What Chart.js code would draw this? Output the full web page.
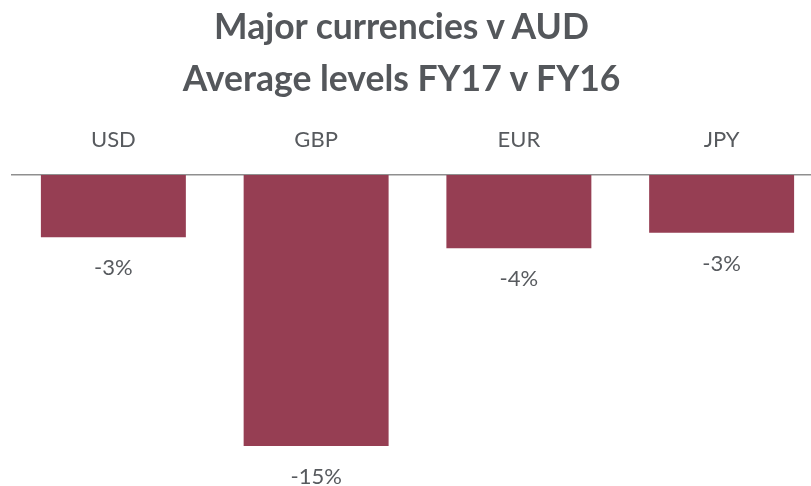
<!DOCTYPE html>
<html>
<head>
<meta charset="utf-8">
<script src="https://cdn.jsdelivr.net/npm/chart.js@4"></script>
<style>
  html, body { margin: 0; padding: 0; background: #fff; overflow: hidden; }
  #wrap { position: relative; width: 811px; height: 486px; overflow: hidden; }
  #title {
    position: absolute; left: -4px; top: 0; width: 811px; text-align: center;
    font-family: Lato, sans-serif; font-weight: bold; font-size: 35.5px; line-height: 52px;
    color: #54575b; padding-top: 0px;
  }
  #chart-box { position: absolute; left: 0; top: 0; width: 823px; height: 486px; }
</style>
</head>
<body>
<div id="wrap">
  <div id="chart-box"><canvas id="chart-canvas"></canvas></div>
  <div id="title">Major currencies v AUD<br>Average levels FY17 v FY16</div>
</div>
<script>
const currencies = ["USD", "GBP", "EUR", "JPY"];
const changePct = [-3.45, -15.0, -4.05, -3.2];

const barColor = "#963e53";
const textColor = "#575a5e";

// labels under each bar, e.g. "-3%"
const valueLabels = {
  id: "valueLabels",
  afterDatasetsDraw(chart) {
    const ctx = chart.ctx;
    const meta = chart.getDatasetMeta(0);
    ctx.save();
    ctx.font = "22px Lato, sans-serif";
    ctx.fillStyle = textColor;
    ctx.textAlign = "center";
    ctx.textBaseline = "alphabetic";
    meta.data.forEach((bar, i) => {
      ctx.fillText(Math.round(changePct[i]) + "%", bar.x, bar.y + 38);
    });
    ctx.restore();
  }
};

const chartCanvas = document.querySelector("#chart-canvas");

new Chart(chartCanvas, {
  type: "bar",
  data: {
    labels: currencies,
    datasets: [
      {
        label: "Change",
        data: changePct,
        backgroundColor: barColor,
        borderWidth: 0,
        categoryPercentage: 1,
        barPercentage: 0.715,
      }
    ]
  },
  options: {
    responsive: true,
    maintainAspectRatio: false,
    animation: false,
    layout: {
      padding: {left: 12, right: 0, top: 115, bottom: 4}
    },
    plugins: {
      legend: {display: false},
      tooltip: {enabled: false},
      title: {display: false},
    },
    scales: {
      x: {
        position: "top",
        grid: {display: false, drawTicks: false, tickLength: 0},
        border: {display: true, color: "#8f8f8f", width: 1.5},
        ticks: {
          color: textColor,
          font: {family: "Lato, sans-serif", size: 22},
          padding: 22,
        },
        afterFit: (scale) => { scale.height = 60; }
      },
      y: {
        display: false,
        min: -17,
        max: 0,
      }
    }
  },
  plugins: [valueLabels]
});
</script>
</body>
</html>
